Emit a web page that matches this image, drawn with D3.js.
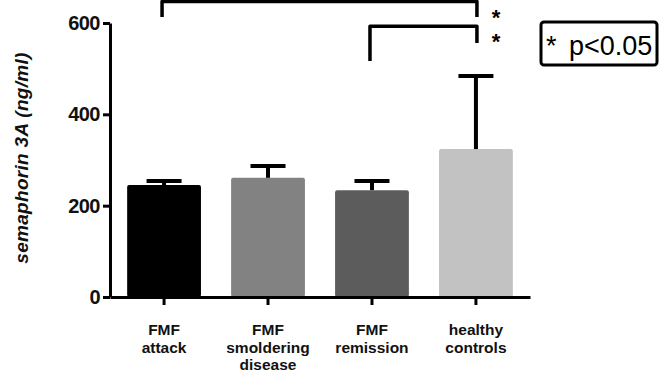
<!DOCTYPE html>
<html>
<head>
<meta charset="utf-8">
<script src="https://cdn.jsdelivr.net/npm/d3@7"></script>
<style>
  body { margin: 0; background: #fff; }
  svg { display: block; font-family: "Liberation Sans", Arial, sans-serif; }
</style>
</head>
<body>
<div id="chart"></div>
<script>
// data
const categories = [["FMF", "attack"], ["FMF", "smoldering", "disease"], ["FMF", "remission"], ["healthy", "controls"]];
const means = [245, 261, 234, 324];
const errors = [9, 26, 20, 160];
const barColors = ["#000000", "#828282", "#5c5c5c", "#c2c2c2"];
const yTicks = [0, 200, 400, 600];

// significance brackets (values in ng/ml units, above the axis)
const brackets = [
  { from: 0, to: 3, top: 647, leftEnd: 613, rightEnd: 613 },
  { from: 2, to: 3, top: 593, leftEnd: 517, rightEnd: 556 }
];

const width = 660, height = 372;

const svg = d3.select("#chart")
  .append("svg")
  .attr("width", width)
  .attr("height", height);

const x = d3.scaleBand()
  .domain(d3.range(categories.length))
  .range([110, 530])
  .paddingInner(0.29)
  .paddingOuter(0.165);

const y = d3.scaleLinear()
  .domain([0, 600])
  .range([297, 23]);

// bars
svg.selectAll("rect.bar")
  .data(means)
  .enter()
  .append("rect")
  .attr("class", "bar")
  .attr("x", (d, i) => x(i))
  .attr("y", d => y(d))
  .attr("width", x.bandwidth())
  .attr("height", d => y(0) - y(d))
  .attr("rx", 2)
  .style("fill", (d, i) => barColors[i]);

// error bars (upper only)
const capW = 35;
const eb = svg.append("g").attr("stroke", "#000").attr("stroke-width", 4);
means.forEach((m, i) => {
  const cx = x(i) + x.bandwidth() / 2;
  eb.append("line")
    .attr("x1", cx).attr("x2", cx)
    .attr("y1", y(m)).attr("y2", y(m + errors[i]));
  eb.append("line")
    .attr("x1", cx - capW / 2).attr("x2", cx + capW / 2)
    .attr("y1", y(m + errors[i])).attr("y2", y(m + errors[i]));
});

// axes
const yAxis = svg.append("g")
  .attr("transform", "translate(110,0)")
  .call(d3.axisLeft(y).tickValues(yTicks).tickSize(7).tickSizeOuter(0).tickPadding(3));
yAxis.select(".domain").attr("stroke-width", 3);
yAxis.selectAll(".tick line").attr("stroke-width", 3);
yAxis.selectAll(".tick text")
  .attr("font-size", 20)
  .attr("font-weight", "bold")
  .attr("fill", "#111")
  .attr("letter-spacing", -0.5);

const xAxis = svg.append("g")
  .attr("transform", "translate(0,297)")
  .call(d3.axisBottom(x).tickSize(8).tickSizeOuter(0).tickFormat(""));
xAxis.select(".domain").attr("stroke-width", 3);
xAxis.selectAll(".tick line").attr("stroke-width", 3);

// category labels
const labelBase = [335, 353, 370];
categories.forEach((lines, i) => {
  const t = svg.append("text")
    .attr("text-anchor", "middle")
    .attr("font-size", 15.5)
    .attr("font-weight", "bold")
    .attr("fill", "#111");
  lines.forEach((s, j) => {
    t.append("tspan")
      .attr("x", x(i) + x.bandwidth() / 2)
      .attr("y", labelBase[j])
      .text(s);
  });
});

// y axis title
svg.append("text")
  .attr("transform", "translate(28,158) rotate(-90)")
  .attr("text-anchor", "middle")
  .attr("font-size", 19)
  .attr("font-weight", "bold")
  .attr("font-style", "italic")
  .attr("letter-spacing", 0.3)
  .attr("fill", "#111")
  .text("semaphorin 3A (ng/ml)");

// significance brackets
const bg = svg.append("g")
  .attr("fill", "none")
  .attr("stroke", "#000")
  .attr("stroke-width", 3.5)
  .attr("stroke-linejoin", "round");
brackets.forEach(b => {
  const x1 = x(b.from) + x.bandwidth() / 2 - 2;
  const x2 = x(b.to) + x.bandwidth() / 2 + 1;
  bg.append("path")
    .attr("d", d3.line()([[x1, y(b.leftEnd)], [x1, y(b.top)], [x2, y(b.top)], [x2, y(b.rightEnd)]]));
  svg.append("text")
    .attr("x", x2 + 19)
    .attr("y", y(b.top) + 23)
    .attr("text-anchor", "middle")
    .attr("font-size", 22)
    .attr("font-weight", "bold")
    .text("*");
});

// legend box
svg.append("rect")
  .attr("x", 541).attr("y", 22)
  .attr("width", 116).attr("height", 43)
  .attr("rx", 3)
  .attr("fill", "#fff")
  .attr("stroke", "#000")
  .attr("stroke-width", 3);
svg.append("text")
  .attr("x", 546).attr("y", 55)
  .attr("font-size", 27)
  .text("*");
svg.append("text")
  .attr("x", 569).attr("y", 55)
  .attr("font-size", 27)
  .text("p<0.05");
</script>
</body>
</html>
